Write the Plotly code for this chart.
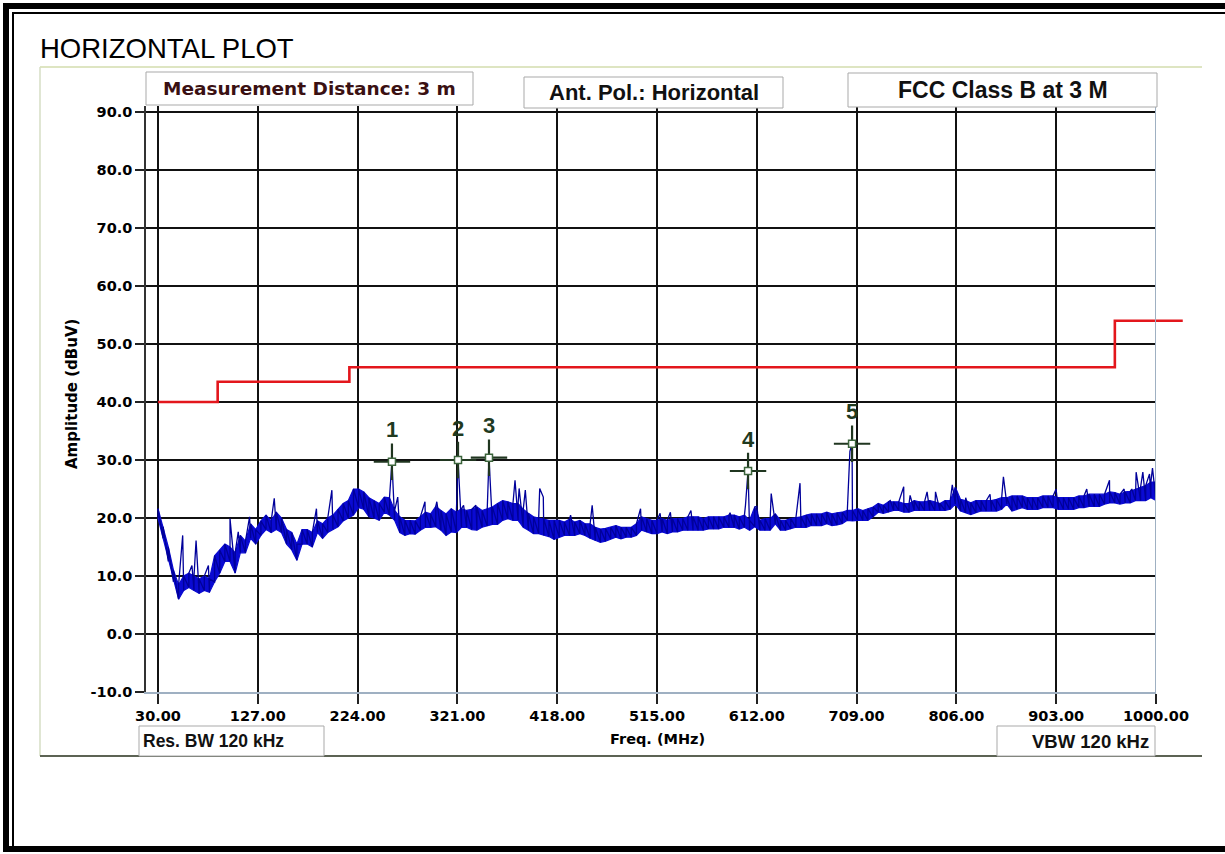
import plotly.graph_objects as go

W, H = 1225, 854

# ---------------- data ----------------
# Spectrum noise envelope on a 5 MHz grid (upper / lower edge of the trace, dBuV)
freq_grid = list(range(30, 1001, 5))
amp_hi = [
    21.6, 18.5, 15.0, 11.0, 8.5, 10.0, 10.5, 10.0, 9.5, 10.0,
    9.5, 13.5, 14.5, 15.5, 15.0, 14.0, 17.0, 16.0, 19.0, 18.0,
    19.5, 20.5, 19.5, 21.0, 20.0, 18.0, 17.5, 15.5, 18.0, 18.0,
    17.5, 19.5, 19.0, 20.0, 20.5, 21.5, 22.5, 23.0, 25.0, 25.0,
    24.5, 23.5, 23.0, 22.5, 23.6, 23.5, 21.3, 20.2, 19.6, 19.6,
    19.5, 20.2, 21.0, 20.7, 22.0, 21.3, 20.7, 21.6, 21.0, 21.6,
    21.3, 21.5, 21.9, 21.3, 21.6, 21.9, 22.5, 23.0, 22.8, 22.5,
    22.5, 21.5, 20.8, 20.2, 20.0, 19.8, 19.6, 19.6, 19.6, 19.3,
    19.8, 19.3, 19.6, 19.0, 19.0, 18.4, 18.1, 18.2, 18.4, 18.7,
    18.4, 18.4, 18.4, 19.0, 20.2, 19.9, 19.6, 19.6, 19.9, 19.6,
    19.9, 19.9, 19.9, 20.2, 20.2, 20.2, 19.9, 20.2, 20.2, 20.2,
    20.2, 20.5, 20.5, 20.2, 20.5, 19.6, 21.9, 19.6, 19.9, 19.9,
    20.7, 19.6, 19.6, 19.9, 20.0, 20.2, 20.5, 20.7, 20.7, 20.7,
    21.0, 20.7, 20.9, 21.0, 21.3, 21.3, 21.6, 21.3, 21.6, 21.9,
    22.5, 22.2, 22.8, 22.8, 22.8, 22.5, 22.5, 23.0, 22.8, 22.8,
    23.0, 22.8, 22.5, 23.0, 23.0, 25.3, 23.2, 23.0, 22.6, 23.0,
    23.0, 23.0, 23.0, 23.2, 23.5, 23.5, 23.8, 23.8, 23.8, 23.5,
    23.5, 23.5, 23.8, 23.8, 23.8, 23.5, 23.5, 23.5, 23.5, 23.8,
    23.8, 24.1, 24.1, 24.1, 24.1, 24.5, 24.4, 24.1, 24.5, 24.6,
    25.0, 25.3, 25.6, 26.2, 26.2,
]
amp_lo = [
    20.0, 16.5, 12.5, 9.0, 6.0, 7.5, 8.0, 7.5, 7.0, 7.5,
    7.2, 9.0, 10.5, 12.5, 12.5, 10.5, 14.0, 14.0, 16.5, 15.5,
    17.0, 18.0, 17.5, 18.0, 17.5, 15.5, 14.5, 12.7, 15.5, 15.5,
    15.0, 17.5, 16.5, 17.5, 18.0, 18.5, 19.5, 20.0, 20.5, 21.8,
    21.5, 20.2, 20.0, 19.6, 21.0, 20.5, 19.6, 17.5, 17.0, 17.3,
    17.2, 17.9, 18.4, 18.4, 18.5, 17.9, 17.0, 17.6, 17.5, 18.4,
    18.4, 18.0, 17.9, 18.4, 18.6, 18.9, 18.9, 19.6, 19.9, 19.6,
    19.6, 18.4, 17.9, 17.3, 17.3, 17.0, 16.8, 16.3, 16.7, 17.0,
    17.0, 17.0, 17.3, 17.0, 16.5, 16.1, 15.8, 16.0, 16.4, 16.7,
    16.4, 16.7, 16.7, 17.0, 17.9, 17.6, 17.3, 17.3, 17.6, 17.3,
    17.6, 17.6, 17.9, 17.9, 17.9, 17.9, 17.9, 18.1, 18.1, 18.1,
    18.4, 18.4, 18.4, 18.1, 18.4, 17.9, 18.5, 17.9, 17.9, 17.9,
    19.0, 17.9, 17.9, 18.1, 18.4, 18.4, 18.4, 18.7, 18.7, 18.7,
    19.0, 18.7, 18.8, 19.0, 19.6, 19.5, 19.6, 19.6, 19.6, 20.2,
    21.0, 20.8, 21.0, 21.3, 21.3, 21.0, 21.0, 21.3, 21.3, 21.3,
    21.3, 21.3, 21.3, 21.3, 21.5, 22.4, 21.2, 20.9, 20.6, 20.9,
    21.2, 21.2, 21.2, 21.2, 21.5, 22.4, 21.2, 21.5, 21.8, 21.5,
    21.5, 21.5, 21.8, 21.8, 21.8, 21.5, 21.5, 21.5, 21.5, 21.8,
    21.8, 22.0, 22.0, 22.0, 22.4, 22.6, 22.6, 22.4, 22.6, 22.6,
    23.0, 23.0, 23.0, 23.5, 23.0,
]

# Narrow emissions rising above the noise floor (MHz, dBuV)
spike_freq = [54, 63, 67, 79, 100, 108, 119, 143, 184, 199, 263, 289.5, 301,
              327, 339, 377, 381, 387, 401, 404.5, 431, 452, 499, 518, 528,
              548, 586, 601, 612, 626, 654, 702.5, 741.7, 754.8, 761, 777.5,
              785.7, 802, 815, 838.7, 851.7, 902.9, 932.7, 954.8, 969, 976.5,
              980.7, 987.2, 993.7, 996.6]
spike_level = [17.0, 11.8, 16.1, 11.8, 19.9, 17.6, 20.2, 23.4, 21.6, 24.8, 23.6,
               22.8, 22.8, 22.2, 22.2, 26.5, 25.1, 24.8, 25.1, 23.6, 20.5, 22.2,
               21.6, 20.8, 21.0, 21.3, 20.9, 22.2, 22.0, 24.2, 26.0, 31.5, 23.0,
               25.4, 23.9, 24.5, 24.5, 25.7, 23.5, 24.1, 27.1, 25.0, 25.0, 26.5,
               25.0, 25.0, 27.9, 27.9, 27.6, 28.6]

# Peak markers
marker_freq = [257.4, 321.6, 351.7, 603.5, 704.6]
marker_level = [29.7, 30.0, 30.4, 28.1, 32.8]
marker_label = ["1", "2", "3", "4", "5"]

# FCC Class B limit at 3 m (band edges in MHz, level in dBuV)
limit_edges = [30, 88, 216, 960, 1026]
limit_levels = [40.0, 43.5, 46.0, 54.0]

x_ticks = [30, 127, 224, 321, 418, 515, 612, 709, 806, 903, 1000]
y_ticks = [-10, 0, 10, 20, 30, 40, 50, 60, 70, 80, 90]

# ---------------- build the spectrum path ----------------
pts = []
for f, hi, lo in zip(freq_grid, amp_hi, amp_lo):
    pts.append((f, 0, lo))
    pts.append((f, 1, hi))
for f, v in zip(spike_freq, spike_level):
    pts.append((f, 2, v))
for f, v in zip(marker_freq, marker_level):
    pts.append((f, 2, v))
pts.sort(key=lambda p: (p[0], p[1]))
trace_x = [p[0] for p in pts]
trace_y = [p[2] for p in pts]


def px(x):
    return x / W


def py(y):
    return 1 - y / H


# plot-area geometry (pixels)
L, R, T, B = 146, 1156, 106, 692
X0 = 30 - (158 - L) * (1000 - 30) / (R - 158)
Y1 = 90 + (112 - T) * 100 / (B - 112)
scale = (R - L) / (1000 - X0)
R2 = 1192
X2_1 = X0 + (R2 - L) / scale

BLUE = "#0a0ad2"
DARK_BLUE = "#00009a"

fig = go.Figure()

# noise band between the lower and upper envelope
fig.add_trace(go.Scatter(
    x=freq_grid, y=amp_lo, mode="lines",
    line=dict(color=BLUE, width=1.2), hoverinfo="skip", showlegend=False,
))
fig.add_trace(go.Scatter(
    x=freq_grid, y=amp_hi, mode="lines", fill="tonexty", fillcolor=BLUE,
    line=dict(color=BLUE, width=1.2), hoverinfo="skip", showlegend=False,
))
# jagged sweep with the narrow emissions
fig.add_trace(go.Scatter(
    x=trace_x, y=trace_y, mode="lines",
    line=dict(color=DARK_BLUE, width=1.3),
    hoverinfo="skip", showlegend=False,
))

fig.add_trace(go.Scatter(
    x=limit_edges, y=limit_levels + [limit_levels[-1]],
    mode="lines", line=dict(color="#e3161c", width=2.6, shape="hv"),
    xaxis="x2", yaxis="y2", showlegend=False, hoverinfo="skip",
))

fig.add_trace(go.Scatter(
    x=marker_freq, y=marker_level, mode="markers",
    marker=dict(symbol="cross-thin", size=26,
                line=dict(color="#203620", width=2.2)),
    showlegend=False, hoverinfo="skip",
))
fig.add_trace(go.Scatter(
    x=marker_freq, y=marker_level, mode="markers",
    marker=dict(symbol="square", size=7, color="#ffffff",
                line=dict(color="#3b643b", width=1.5)),
    showlegend=False, hoverinfo="skip",
))

shapes = []
annotations = []


def black_rect(x0, x1, y0, y1):
    shapes.append(dict(type="rect", xref="paper", yref="paper",
                       x0=px(x0), x1=px(x1), y0=py(y1), y1=py(y0),
                       fillcolor="black", line=dict(width=0), layer="above"))


# outer double frame
black_rect(3, 9, 3, 852)
black_rect(12, 14, 12, 852)
black_rect(3, W, 3, 9)
black_rect(12, W, 12, 14)
black_rect(3, W, 846, 852)

# chart panel edges
shapes.append(dict(type="line", xref="paper", yref="paper",
                   x0=px(40), x1=px(1202), y0=py(67), y1=py(67),
                   line=dict(color="#d3dcae", width=1.5), layer="below"))
shapes.append(dict(type="line", xref="paper", yref="paper",
                   x0=px(40), x1=px(40), y0=py(67), y1=py(756),
                   line=dict(color="#d6dec4", width=1.5), layer="below"))
shapes.append(dict(type="line", xref="paper", yref="paper",
                   x0=px(40), x1=px(1202), y0=py(756), y1=py(756),
                   line=dict(color="#5c6354", width=2), layer="below"))

# right border of the plot area
shapes.append(dict(type="line", xref="x", yref="y domain",
                   x0=1000, x1=1000, y0=0, y1=1,
                   line=dict(color="#9fb0c2", width=2), layer="above"))

# info boxes
boxes = [
    (146, 473, 72, 105, "<b>Measurement Distance: 3 m</b>", "DejaVu Sans", 18.5, "#3a1012", "center"),
    (524, 783, 77, 108, "<b>Ant. Pol.: Horizontal</b>", "Liberation Sans", 22, "#111111", "center"),
    (848, 1157, 73, 107, "<b>FCC Class B at 3 M</b>", "Liberation Sans", 23, "#111111", "center"),
    (139, 324, 726, 756, "<b>Res. BW 120 kHz</b>", "Liberation Sans", 17.5, "#111111", "left"),
    (997, 1155, 726, 756, "<b>VBW 120 kHz</b>", "Liberation Sans", 18.5, "#111111", "right"),
]
for x0, x1, y0, y1, txt, fam, size, col, align in boxes:
    shapes.append(dict(type="rect", xref="paper", yref="paper",
                       x0=px(x0), x1=px(x1), y0=py(y1), y1=py(y0),
                       fillcolor="white", line=dict(color="#a9a9a9", width=1),
                       layer="above"))
    if align == "center":
        ax, anc = (x0 + x1) / 2, "center"
    elif align == "left":
        ax, anc = x0 + 2, "left"
    else:
        ax, anc = x1 - 4, "right"
    annotations.append(dict(xref="paper", yref="paper", x=px(ax), y=py((y0 + y1) / 2),
                            text=txt, showarrow=False, xanchor=anc, yanchor="middle",
                            font=dict(family=fam, size=size, color=col)))

# title and axis titles
annotations.append(dict(xref="paper", yref="paper", x=px(38), y=py(49),
                        text="HORIZONTAL PLOT", showarrow=False,
                        xanchor="left", yanchor="middle",
                        font=dict(family="Liberation Sans", size=27.5, color="#000000")))
annotations.append(dict(xref="paper", yref="paper", x=px(72), y=py(394),
                        text="<b>Amplitude (dBuV)</b>", showarrow=False, textangle=-90,
                        xanchor="center", yanchor="middle",
                        font=dict(family="DejaVu Sans", size=15, color="#000000")))
annotations.append(dict(xref="paper", yref="paper", x=px(657), y=py(739),
                        text="<b>Freq. (MHz)</b>", showarrow=False,
                        xanchor="center", yanchor="middle",
                        font=dict(family="DejaVu Sans", size=14.5, color="#000000")))

# marker numbers
for f, v, lab in zip(marker_freq, marker_level, marker_label):
    annotations.append(dict(xref="x", yref="y", x=f, y=v, yshift=32,
                            text="<b>" + lab + "</b>", showarrow=False,
                            xanchor="center", yanchor="middle",
                            font=dict(family="Liberation Sans", size=22, color="#1f3a1f")))

tickfont = dict(family="DejaVu Sans", size=14.5, color="#000000", weight="bold")

fig.update_layout(
    template="none",
    width=W, height=H, autosize=False,
    margin=dict(l=0, r=0, t=0, b=0, pad=0),
    paper_bgcolor="white",
    plot_bgcolor="rgba(0,0,0,0)",
    showlegend=False,
    xaxis=dict(
        domain=[px(L), px(R)], range=[X0, 1000], anchor="y", automargin=False,
        tickmode="array", tickvals=x_ticks, ticktext=[f"{v:.2f}" for v in x_ticks],
        showgrid=True, gridcolor="#111111", gridwidth=1.6,
        showline=True, linecolor="#9fb0c2", linewidth=2,
        ticks="outside", ticklen=10, tickwidth=1.5, tickcolor="#222222",
        zeroline=False, tickfont=tickfont, fixedrange=True,
    ),
    yaxis=dict(
        domain=[py(B), py(T)], range=[-10, Y1], anchor="x", automargin=False,
        tickmode="array", tickvals=y_ticks, ticktext=[f"{v:.1f}" for v in y_ticks],
        showgrid=True, gridcolor="#111111", gridwidth=1.6,
        showline=True, linecolor="#333333", linewidth=1.5,
        ticks="outside", ticklen=9, tickwidth=1.5, tickcolor="#222222",
        zeroline=False, tickfont=tickfont, fixedrange=True,
    ),
    xaxis2=dict(domain=[px(L), px(R2)], range=[X0, X2_1], anchor="y2", automargin=False,
                visible=False, showgrid=False, zeroline=False, fixedrange=True),
    yaxis2=dict(domain=[py(B), py(T)], range=[-10, Y1], anchor="x2", automargin=False,
                visible=False, showgrid=False, zeroline=False, fixedrange=True),
    shapes=shapes,
    annotations=annotations,
)

fig.write_html("out.html")
